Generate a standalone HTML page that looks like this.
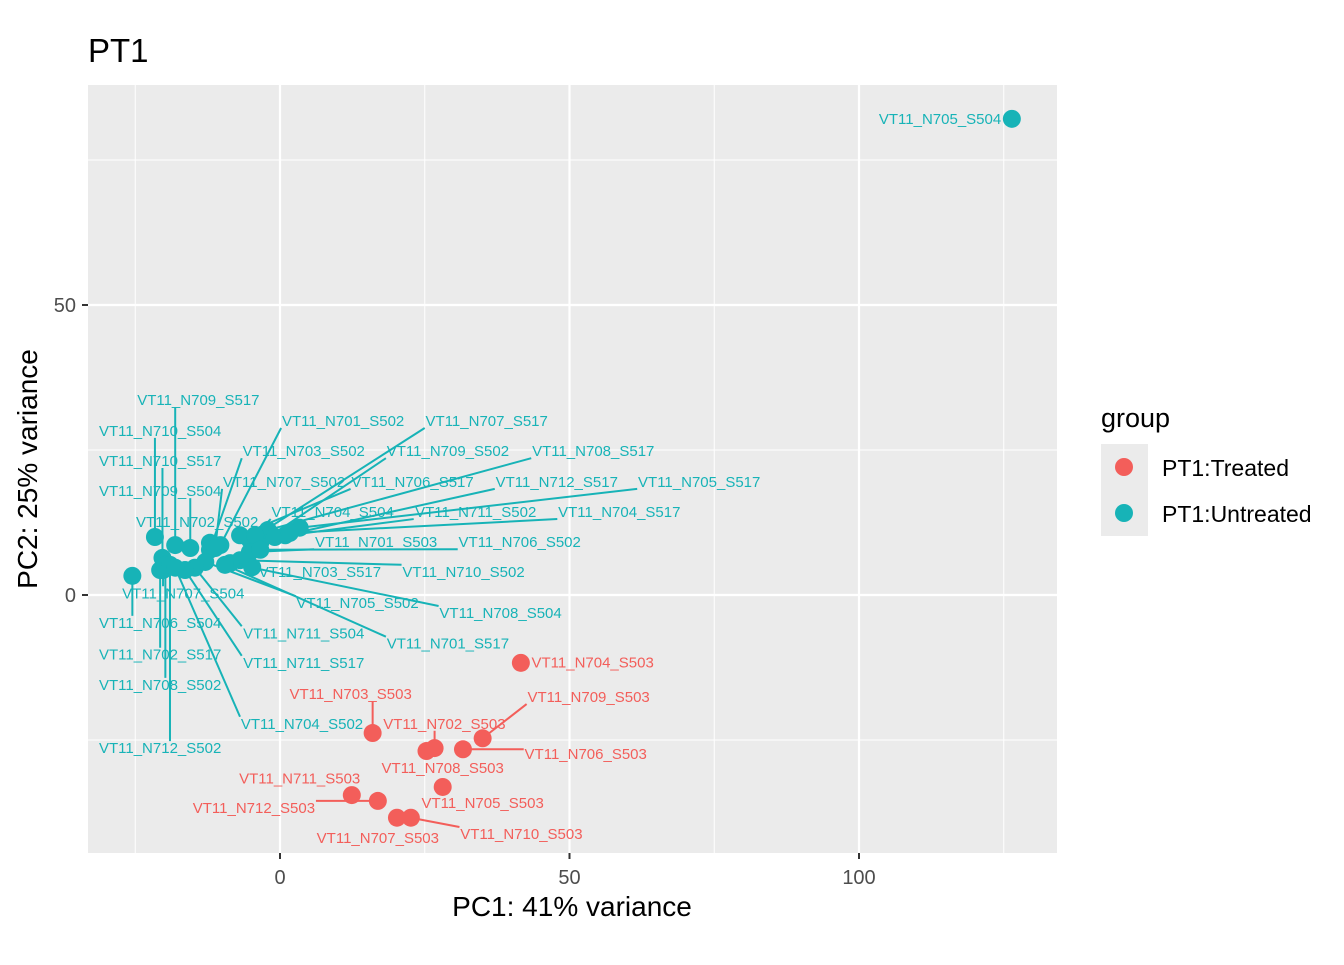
<!DOCTYPE html>
<html><head><meta charset="utf-8"><style>
body{margin:0;background:#fff;}
svg text{font-family:"Liberation Sans",Arial,sans-serif;}
</style></head><body>
<svg id="chart" width="1344" height="960" xmlns="http://www.w3.org/2000/svg">
<rect width="1344" height="960" fill="#fff"/>
<text x="88" y="62" font-size="33" fill="#000">PT1</text>
<rect x="88" y="85" width="969" height="768" fill="#ebebeb"/>
<g id="grid"></g>
<g id="segs"></g>
<g id="pts"></g>
<g id="labs"></g>
<g id="axes"></g>
<text x="572" y="916" font-size="28" text-anchor="middle" fill="#000">PC1: 41% variance</text>
<text transform="translate(37,469) rotate(-90)" font-size="28" text-anchor="middle" fill="#000">PC2: 25% variance</text>
<g>
<text x="1101" y="427" font-size="27" fill="#000">group</text>
<rect x="1101" y="444" width="47" height="92" fill="#ebebeb"/>
<circle cx="1124" cy="467" r="9" fill="#F35E5A"/>
<circle cx="1124" cy="513" r="9" fill="#17B3B7"/>
<text x="1162" y="476" font-size="23" fill="#000">PT1:Treated</text>
<text x="1162" y="522" font-size="23" fill="#000">PT1:Untreated</text>
</g>
</svg>
<script>
const names = ["VT11_N704_S503","VT11_N703_S503","VT11_N702_S503","VT11_N708_S503","VT11_N706_S503","VT11_N709_S503","VT11_N705_S503","VT11_N711_S503","VT11_N712_S503","VT11_N707_S503","VT11_N710_S503",
"VT11_N709_S517","VT11_N710_S504","VT11_N710_S517","VT11_N709_S504","VT11_N702_S502","VT11_N707_S504","VT11_N706_S504","VT11_N702_S517","VT11_N708_S502","VT11_N712_S502","VT11_N701_S502","VT11_N707_S517","VT11_N703_S502","VT11_N709_S502","VT11_N708_S517","VT11_N707_S502","VT11_N706_S517","VT11_N712_S517","VT11_N705_S517","VT11_N704_S504","VT11_N711_S502","VT11_N704_S517","VT11_N701_S503","VT11_N706_S502","VT11_N703_S517","VT11_N710_S502","VT11_N705_S502","VT11_N708_S504","VT11_N711_S504","VT11_N701_S517","VT11_N711_S517","VT11_N704_S502","VT11_N705_S504"];
const groups = ["T","T","T","T","T","T","T","T","T","T","T","U","U","U","U","U","U","U","U","U","U","U","U","U","U","U","U","U","U","U","U","U","U","U","U","U","U","U","U","U","U","U","U","U"];
const pc1 = [41.6,16.0,26.7,25.3,31.6,35.0,28.1,12.4,16.9,20.2,22.6,
-18.1,-21.6,-20.3,-15.5,-12.1,-20.2,-25.5,-20.7,-19.8,-19.0,-10.3,-5.2,-12.1,-3.4,-2.1,-11.2,-6.9,0.9,3.4,-4.3,-0.9,1.7,-5.2,-3.4,-4.8,-6.9,-12.9,-8.6,-14.7,-9.5,-16.4,-18.1,126.4];
const pc2 = [-11.7,-23.8,-26.4,-26.9,-26.6,-24.7,-33.1,-34.5,-35.5,-38.4,-38.4,
8.6,10.0,6.4,8.1,9.0,4.3,3.3,4.3,5.2,5.2,8.6,9.5,7.8,9.0,11.2,8.1,10.3,10.3,11.6,10.3,10.0,10.7,7.4,7.8,4.8,6.0,5.7,5.5,4.7,5.2,4.3,4.7,82.1];
const labX = [54.0,12.2,28.4,28.1,52.8,53.3,35.0,3.4,-4.5,16.9,41.7,
-14.1,-20.7,-20.7,-20.7,-14.3,-16.7,-20.7,-20.7,-20.7,-20.7,10.9,35.7,4.1,29.0,54.1,0.7,22.9,47.8,72.4,9.1,33.8,58.6,16.6,41.4,6.9,31.7,13.4,38.1,4.1,29.0,4.1,3.8,114.0];
const labY = [-11.6,-17.1,-22.2,-29.8,-27.4,-17.6,-35.9,-31.6,-36.7,-41.9,-41.2,
33.6,28.3,23.1,17.9,12.6,0.3,-4.8,-10.3,-15.5,-26.4,30.0,30.0,24.8,24.8,24.8,19.5,19.5,19.5,19.5,14.3,14.3,14.3,9.1,9.1,4.0,4.0,-1.4,-3.1,-6.6,-8.4,-11.7,-22.2,82.1];
const xTicks = [0,50,100], yTicks = [0,50];
const xMinor = [-25,25,75,125], yMinor = [-25,25,75];

const X = v => 280 + v*5.79;
const Y = v => 595 - v*5.8;
const NS = "http://www.w3.org/2000/svg";
function mk(tag, parent, attrs){const e=document.createElementNS(NS,tag);for(const k in attrs)e.setAttribute(k,attrs[k]);document.getElementById(parent).appendChild(e);return e;}
const col = g => g==="T" ? "#F35E5A" : "#17B3B7";

xMinor.forEach(v=>{const l=mk("line","grid",{x1:X(v),x2:X(v),y1:85,y2:853,stroke:"#fff","stroke-width":1});

});
yMinor.forEach(v=>{const l=mk("line","grid",{x1:88,x2:1057,y1:Y(v),y2:Y(v),stroke:"#fff","stroke-width":1});

});
xTicks.forEach(v=>{const l=mk("line","grid",{x1:X(v),x2:X(v),y1:85,y2:853,stroke:"#fff","stroke-width":2.2});


const t=mk("line","axes",{x1:X(v),x2:X(v),y1:853,y2:859,stroke:"#333","stroke-width":2});


const tx=mk("text","axes",{x:X(v),y:884,"font-size":20,"text-anchor":"middle",fill:"#4d4d4d"});tx.textContent=v;

});
yTicks.forEach(v=>{const l=mk("line","grid",{x1:88,x2:1057,y1:Y(v),y2:Y(v),stroke:"#fff","stroke-width":2.2});


const t=mk("line","axes",{x1:82,x2:88,y1:Y(v),y2:Y(v),stroke:"#333","stroke-width":2});


const tx=mk("text","axes",{x:76,y:Y(v)+7,"font-size":20,"text-anchor":"end",fill:"#4d4d4d"});tx.textContent=v;

});

const HW = 62, HH = 7;
names.forEach((n,i)=>{
  const px=X(pc1[i]), py=Y(pc2[i]), lx=X(labX[i]), ly=Y(labY[i]);
  const nx=Math.max(lx-HW,Math.min(px,lx+HW)), ny=Math.max(ly-HH,Math.min(py,ly+HH));
  const d=Math.hypot(nx-px,ny-py);
  if(d>14){
    const s=mk("line","segs",{x1:px,y1:py,x2:nx,y2:ny,stroke:col(groups[i]),"stroke-width":2});
    
    
  }
  const c=mk("circle","pts",{cx:px,cy:py,r:9,fill:col(groups[i])});
  
  
  const t=mk("text","labs",{x:lx,y:ly+5,"font-size":15,"text-anchor":"middle",fill:col(groups[i])});
  t.textContent=n;
  
  
});
</script>
</body></html>
